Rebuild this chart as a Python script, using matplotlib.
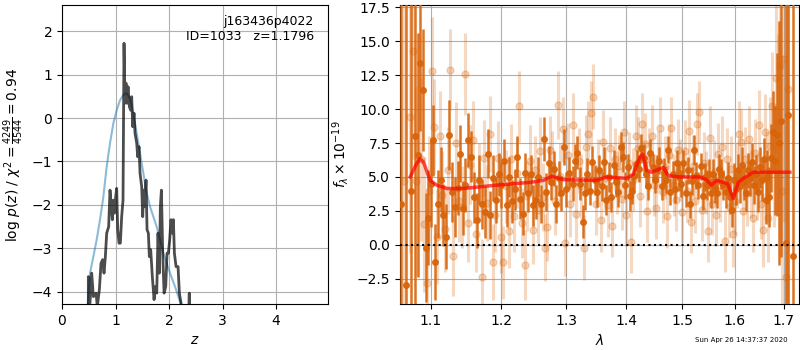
import numpy as np
import matplotlib
matplotlib.use("Agg")
import matplotlib.pyplot as plt
from matplotlib.ticker import NullLocator, FixedLocator, FixedFormatter

# ---------------- Left panel: p(z) ----------------
pz_smooth_z = [0.48, 0.523, 0.586, 0.648, 0.71, 0.773, 0.835, 0.897, 0.96, 1.022,
               1.084, 1.146, 1.209, 1.271, 1.333, 1.396, 1.458, 1.52, 1.583, 1.645,
               1.707, 1.769, 1.832, 1.894, 1.956, 2.019, 2.112, 2.174, 2.237, 2.30]
pz_smooth_v = [-4.3, -3.57, -3.19, -2.80, -2.34, -1.81, -1.12, -0.58, -0.12, 0.18,
               0.41, 0.53, 0.57, 0.45, 0.11, -0.35, -0.81, -1.27, -1.73, -2.04,
               -2.27, -2.50, -2.80, -3.11, -3.34, -3.57, -3.88, -4.11, -4.34, -4.7]

pz_z = [0.492, 0.492, 0.523, 0.555, 0.586, 0.636, 0.660, 0.698, 0.729, 0.760,
        0.785, 0.810, 0.835, 0.872, 0.897, 0.922, 0.941, 0.960, 0.978, 1.003,
        1.022, 1.041, 1.065, 1.090, 1.115, 1.140, 1.159, 1.178, 1.196, 1.215,
        1.234, 1.259, 1.283, 1.302, 1.321, 1.346, 1.364, 1.396, 1.414, 1.439,
        1.458, 1.489, 1.508, 1.527, 1.545, 1.570, 1.589, 1.614, 1.632, 1.657,
        1.688, 1.720, 1.745, 1.770, 1.794, 1.819, 1.838, 1.857, 1.882, 1.907,
        1.938, 1.963, 1.988, 2.012, 2.037, 2.062, 2.081, 2.100, 2.131, 2.168,
        2.193, 2.224, 2.255, 2.30, 2.36, 2.378, 2.385, 2.45]
pz_v = [-4.41, -3.65, -4.26, -3.57, -4.11, -4.03, -4.34, -3.95, -3.34, -3.26,
        -3.57, -3.19, -2.65, -2.50, -1.66, -2.04, -2.34, -1.89, -2.19, -1.81,
        -1.62, -2.57, -2.88, -2.88, -2.27, -1.89, 1.72, 0.34, 0.80, 0.34,
        0.72, 0.26, 0.18, 0.49, -0.20, 0.11, -0.35, -0.58, -0.89, -0.66,
        -1.27, -1.58, -2.27, -1.66, -2.04, -1.43, -2.57, -2.65, -3.19, -3.03,
        -3.65, -4.18, -3.88, -4.03, -2.65, -3.57, -2.04, -1.66, -3.11, -4.03,
        -3.88, -3.11, -3.11, -2.80, -2.34, -2.65, -2.34, -3.11, -3.42, -3.42,
        -4.03, -4.26, -4.6, -5.0, -4.8, -4.03, -4.6, -5.2]

z_ticks = [0, 1, 2, 3, 4]
pz_ticks = [-4, -3, -2, -1, 0, 1, 2]

# ---------------- Right panel: spectrum ----------------
# binned (solid) points
lam_b = [1.0605, 1.067, 1.0735, 1.079, 1.083, 1.086, 1.089, 1.093, 1.096,
         1.100, 1.103, 1.106, 1.110, 1.114, 1.117, 1.121, 1.125, 1.129, 1.133,
         1.137, 1.141, 1.144, 1.148, 1.152, 1.156, 1.160, 1.164, 1.168, 1.172,
         1.176, 1.180, 1.184, 1.188, 1.192, 1.196, 1.200, 1.204, 1.208, 1.212,
         1.216, 1.220, 1.224, 1.228, 1.232, 1.236, 1.240, 1.244, 1.248, 1.252,
         1.256, 1.260, 1.265, 1.268, 1.272, 1.276, 1.280, 1.284, 1.288, 1.292,
         1.296, 1.300, 1.305, 1.310, 1.314, 1.318, 1.322, 1.327, 1.330, 1.334,
         1.338, 1.342, 1.346, 1.350, 1.354, 1.358, 1.362, 1.366, 1.370, 1.374,
         1.378, 1.382, 1.386, 1.390, 1.394, 1.398, 1.402, 1.406, 1.410, 1.414,
         1.418, 1.422, 1.426, 1.430, 1.434, 1.438, 1.442, 1.446, 1.450, 1.454,
         1.458, 1.462, 1.466, 1.470, 1.474, 1.478, 1.482, 1.486, 1.490, 1.494,
         1.498, 1.502, 1.506, 1.510, 1.514, 1.518, 1.522, 1.526, 1.530, 1.534,
         1.538, 1.542, 1.546, 1.550, 1.554, 1.558, 1.562, 1.566, 1.570, 1.574,
         1.578, 1.582, 1.586, 1.590, 1.594, 1.598, 1.602, 1.606, 1.610, 1.614,
         1.618, 1.622, 1.626, 1.630, 1.634, 1.638, 1.642, 1.646, 1.650, 1.654,
         1.658, 1.662, 1.666, 1.670, 1.674, 1.678, 1.682, 1.686, 1.690, 1.694,
         1.704, 1.709, 1.720]
flux_b = [3.0, -2.96, 4.0, 8.0, 6.6, 13.4, 11.4, -0.2, 2.0,
          4.5, 7.7, -1.3, 3.0, 4.8, 2.2, 0.6, 8.1, 3.9, 2.8,
          4.2, 6.7, 2.7, 4.4, 7.7, 6.5, 3.5, 1.8, 4.8, 3.0,
          2.4, 6.7, 2.2, 4.9, 3.3, 5.2, 4.4, 6.2, 2.9, 5.0,
          3.2, 4.1, 6.5, 3.4, 2.3, 5.3, 3.8, 5.2, 2.9, 3.3,
          5.0, 3.0, 7.8, 3.9, 6.0, 4.6, 5.6, 3.0, 4.9, 3.8,
          7.2, 4.1, 5.3, 4.5, 6.2, 6.8, 4.5, 1.7, 3.8, 5.2,
          4.0, 6.1, 4.8, 3.9, 5.5, 4.3, 6.1, 3.3, 5.0, 3.5,
          5.9, 4.6, 3.9, 7.2, 6.5, 4.4, 5.7, 3.6, 4.0, 5.1,
          6.0, 5.6, 7.1, 6.4, 5.2, 4.3, 6.8, 5.7, 4.8, 5.6,
          6.2, 4.3, 5.4, 4.8, 7.0, 3.9, 5.2, 4.1, 6.0, 5.0,
          4.5, 6.0, 3.8, 5.5, 3.0, 4.7, 7.0, 5.1, 4.4, 5.8,
          3.6, 5.0, 4.4, 5.2, 3.8, 5.2, 4.2, 3.8, 5.6, 5.2,
          4.4, 3.9, 4.9, 3.5, 2.6, 4.8, 4.1, 5.5, 4.3, 5.9,
          4.6, 3.8, 5.5, 4.9, 6.1, 4.4, 5.2, 3.9, 5.7, 4.8,
          6.3, 3.3, 5.0, 3.5, 6.4, 8.3, 6.2, 8.1, 7.5, 9.1,
          0.1, 9.6, -0.8]
err_b = [30, 22, 25, 14, 9, 5, 4.5, 4, 3.5,
         3.2, 2.6, 2.8, 2.5, 2.4, 2.3, 2.4, 2.6, 2.2, 2.2,
         2.0, 2.1, 2.0, 2.0, 2.0, 1.9, 1.9, 2.0, 1.8, 1.8,
         1.9, 1.8, 1.8, 1.7, 1.7, 1.6, 1.7, 1.6, 1.6, 1.5,
         1.6, 1.5, 1.5, 1.5, 1.6, 1.5, 1.4, 1.4, 1.5, 1.4,
         1.5, 1.4, 1.6, 1.4, 1.3, 1.3, 1.3, 1.4, 1.3, 1.3,
         1.3, 1.3, 1.2, 1.3, 1.2, 1.2, 1.2, 1.2, 1.2, 1.2,
         1.1, 1.2, 1.1, 1.1, 1.1, 1.1, 1.1, 1.1, 1.1, 1.1,
         1.1, 1.1, 1.1, 1.1, 1.1, 1.0, 1.0, 1.1, 1.0, 1.0,
         1.0, 1.0, 1.1, 1.0, 1.0, 1.0, 1.0, 1.0, 1.0, 1.0,
         1.0, 1.0, 1.0, 1.0, 1.0, 1.0, 1.0, 1.0, 1.0, 1.0,
         1.0, 1.0, 1.0, 1.0, 1.0, 1.0, 1.1, 1.0, 1.0, 1.0,
         1.0, 1.0, 1.1, 1.1, 1.1, 1.1, 1.1, 1.1, 1.1, 1.1,
         1.1, 1.2, 1.2, 1.2, 1.3, 1.2, 1.2, 1.2, 1.2, 1.3,
         1.3, 1.3, 1.3, 1.3, 1.4, 1.4, 1.4, 1.5, 1.5, 1.6,
         1.6, 1.8, 2.0, 2.2, 2.5, 3.0, 4.0, 6.0, 9.0, 10.0,
         25.0, 25.0, 30.0]

# unbinned (faded) points
lam_u = [1.064, 1.072, 1.076, 1.080, 1.087, 1.091, 1.095, 1.098, 1.101, 1.105,
         1.108, 1.112, 1.115, 1.119, 1.123, 1.127, 1.131, 1.135, 1.139, 1.143,
         1.147, 1.151, 1.155, 1.159, 1.163, 1.167, 1.171, 1.175, 1.179, 1.183,
         1.187, 1.191, 1.195, 1.199, 1.203, 1.207, 1.211, 1.215, 1.219, 1.223,
         1.227, 1.231, 1.235, 1.239, 1.243, 1.247, 1.251, 1.255, 1.259, 1.263,
         1.266, 1.270, 1.274, 1.278, 1.282, 1.286, 1.290, 1.294, 1.298, 1.302,
         1.306, 1.310, 1.316, 1.320, 1.324, 1.328, 1.332, 1.336, 1.340, 1.344,
         1.348, 1.352, 1.356, 1.360, 1.364, 1.368, 1.372, 1.376, 1.380, 1.384,
         1.388, 1.392, 1.396, 1.400, 1.404, 1.408, 1.412, 1.416, 1.420, 1.424,
         1.428, 1.432, 1.436, 1.440, 1.444, 1.448, 1.452, 1.456, 1.460, 1.464,
         1.468, 1.472, 1.476, 1.480, 1.484, 1.488, 1.492, 1.496, 1.500, 1.504,
         1.508, 1.512, 1.516, 1.520, 1.524, 1.528, 1.532, 1.536, 1.540, 1.544,
         1.548, 1.552, 1.556, 1.560, 1.564, 1.568, 1.572, 1.576, 1.580, 1.584,
         1.588, 1.592, 1.596, 1.600, 1.604, 1.608, 1.612, 1.616, 1.620, 1.624,
         1.628, 1.632, 1.636, 1.640, 1.644, 1.648, 1.652, 1.656, 1.660, 1.664,
         1.668, 1.672, 1.676, 1.680, 1.684, 1.688, 1.692, 1.696, 1.700, 1.704,
         1.708]
flux_u = [4.7, 9.4, 14.3, 4.7, 6.3, 1.5, -2.8, 4.0, 12.8, 8.7,
          0.6, 8.0, 3.7, 1.2, 5.5, 12.9, -0.8, 7.5, 3.2, 2.8,
          12.6, 1.6, 5.9, 7.7, 0.8, 4.7, -2.4, 6.4, 3.1, 8.2,
          -1.3, 2.2, 6.4, 0.6, -1.3, 4.3, 1.0, 6.3, 2.1, 5.3,
          10.2, 1.6, -1.5, 3.6, 6.2, 1.1, 5.5, 2.6, 6.9, 3.5,
          -0.2, 1.3, 7.0, 5.9, 3.2, 10.3, 5.1, 8.5, 0.1, 6.6,
          3.0, 8.8, 2.3, 6.2, 4.3, -0.2, 7.2, 8.2, 9.7, 10.9,
          3.0, 5.5, 1.8, 7.6, 4.9, 2.9, 7.1, 1.4, 6.3, 4.6,
          5.8, 3.4, 8.3, 2.2, 6.0, 0.2, 4.8, 8.0, 7.1, 3.6,
          8.9, 7.4, 2.5, 6.3, 8.0, 4.4, 2.7, 6.1, 8.6, 3.9,
          5.7, 2.1, 6.6, 8.6, 4.4, 3.3, 7.0, 5.5, 2.4, 6.9,
          4.0, 8.4, 1.7, 5.8, 3.2, 8.9, 9.8, 2.6, 6.0, 4.6,
          1.0, 7.9, 3.0, 5.4, 2.2, 6.7, 4.0, 7.2, 0.3, 6.3,
          2.8, 5.6, 0.8, 3.2, 5.1, 8.2, 7.6, 2.5, 6.3, 3.8,
          7.8, 4.5, 2.0, 6.8, 4.3, 8.8, 3.0, 1.1, 8.3, 5.4,
          2.0, 7.3, 10.2, 5.8, 12.3, 9.0, 13.2, 4.0, 13.7, -2.4,
          11.5]
err_u = [15, 10, 8, 7, 6, 5, 5, 4, 4, 3.5,
         3.5, 3.3, 3.2, 3.2, 3.2, 3.0, 3.0, 3.0, 3.0, 3.0,
         3.0, 2.9, 2.9, 2.9, 2.8, 2.8, 2.8, 2.8, 2.8, 2.8,
         2.8, 2.7, 2.7, 2.7, 2.7, 2.7, 2.7, 2.6, 2.6, 2.6,
         2.6, 2.6, 2.6, 2.6, 2.6, 2.5, 2.5, 2.5, 2.5, 2.5,
         2.5, 2.5, 2.5, 2.5, 2.5, 2.5, 2.4, 2.4, 2.4, 2.4,
         2.4, 2.4, 2.4, 2.4, 2.4, 2.4, 2.4, 2.4, 2.4, 2.4,
         2.3, 2.3, 2.3, 2.3, 2.3, 2.3, 2.3, 2.3, 2.3, 2.3,
         2.3, 2.3, 2.3, 2.3, 2.3, 2.3, 2.3, 2.3, 2.3, 2.3,
         2.3, 2.3, 2.3, 2.3, 2.3, 2.3, 2.3, 2.3, 2.3, 2.3,
         2.3, 2.3, 2.3, 2.3, 2.3, 2.3, 2.3, 2.3, 2.3, 2.3,
         2.3, 2.3, 2.3, 2.3, 2.3, 2.3, 2.3, 2.3, 2.3, 2.3,
         2.3, 2.3, 2.3, 2.3, 2.3, 2.3, 2.3, 2.3, 2.3, 2.3,
         2.3, 2.4, 2.4, 2.4, 2.4, 2.4, 2.4, 2.4, 2.4, 2.4,
         2.4, 2.5, 2.5, 2.5, 2.5, 2.6, 2.6, 2.7, 2.8, 3.0,
         3.3, 3.6, 4.0, 4.5, 5.5, 6.5, 8.0, 10.0, 12.0, 16.0,
         20.0]

# model
lam_m = [1.0724, 1.0800, 1.0856, 1.0900, 1.0991, 1.1080, 1.1219, 1.1452, 1.1932, 1.2432,
         1.2638, 1.2769, 1.2954, 1.3496, 1.3664, 1.4004, 1.4118, 1.4236, 1.4283, 1.4353,
         1.4442, 1.4591, 1.4651, 1.4741, 1.4955, 1.5329, 1.5450, 1.5550, 1.5647, 1.5776,
         1.5860, 1.5971, 1.6071, 1.6170, 1.6371, 1.7126]
flux_m = [5.0, 5.9, 6.35, 6.1, 4.75, 4.4, 4.15, 4.15, 4.4, 4.6,
          4.75, 5.05, 4.8, 4.75, 5.0, 4.9, 5.2, 6.45, 6.7, 5.5,
          5.35, 5.6, 5.7, 5.1, 5.0, 5.0, 4.8, 4.4, 4.75, 4.6,
          4.5, 3.4, 4.6, 4.9, 5.35, 5.35]

lam_ticks = [1.1, 1.2, 1.3, 1.4, 1.5, 1.6, 1.7]
lam_ticklabels = ["1.1", "1.2", "1.3", "1.4", "1.5", "1.6", "1.7"]
flux_ticks = [-2.5, 0.0, 2.5, 5.0, 7.5, 10.0, 12.5, 15.0, 17.5]

orange = "#d8640a"

fig = plt.figure(figsize=(8, 3.5), dpi=100)

# ---- left ----
ax1 = fig.add_axes([0.0775, 0.1314, 0.3325, 0.8543])
ax1.plot(pz_smooth_z, pz_smooth_v, color="#1f77b4", alpha=0.5, lw=1.5)
ax1.plot(pz_z, pz_v, color="k", alpha=0.7, lw=2)
ax1.set_xlim(0, 4.97)
ax1.set_ylim(-4.28, 2.6)
ax1.set_xticks(z_ticks)
ax1.set_yticks(pz_ticks)
ax1.grid(True)
ax1.tick_params(labelsize=10)
ax1.set_xlabel(r"$z$", fontsize=10)
ax1.set_ylabel(r"log $p(z)$ / $\chi^2=\frac{4249}{4544}=0.94$", fontsize=10)
ax1.text(0.947, 0.965, "j163436p4022\nID=1033   z=1.1796", transform=ax1.transAxes,
         ha="right", va="top", fontsize=9)

# ---- right ----
ax2 = fig.add_axes([0.5, 0.1314, 0.49875, 0.8543])
ax2.errorbar(lam_u, flux_u, yerr=err_u, fmt="o", color=orange, alpha=0.25,
             ms=5, elinewidth=2.2, capsize=0, zorder=2)
ax2.errorbar(lam_b, flux_b, yerr=err_b, fmt="o", color=orange, alpha=0.9,
             ms=4, elinewidth=1.8, capsize=0, zorder=3)
ax2.plot(lam_m, flux_m, color="red", alpha=0.7, lw=2.5, zorder=4)
ax2.axhline(0, color="k", ls=":", lw=1.5, zorder=5)
ax2.set_xscale("log")
ax2.set_xlim(1.059, 1.732)
ax2.set_ylim(-4.36, 17.67)
ax2.xaxis.set_major_locator(FixedLocator(lam_ticks))
ax2.xaxis.set_major_formatter(FixedFormatter(lam_ticklabels))
ax2.xaxis.set_minor_locator(NullLocator())
ax2.set_yticks(flux_ticks)
ax2.grid(True)
ax2.tick_params(labelsize=10)
ax2.set_xlabel(r"$\lambda$", fontsize=10)
ax2.set_ylabel(r"$f_\lambda \times 10^{-19}$", fontsize=10)

fig.text(0.985, 0.028, "Sun Apr 26 14:37:37 2020", ha="right", va="center", fontsize=5)

fig.savefig("out.png", dpi=100)
